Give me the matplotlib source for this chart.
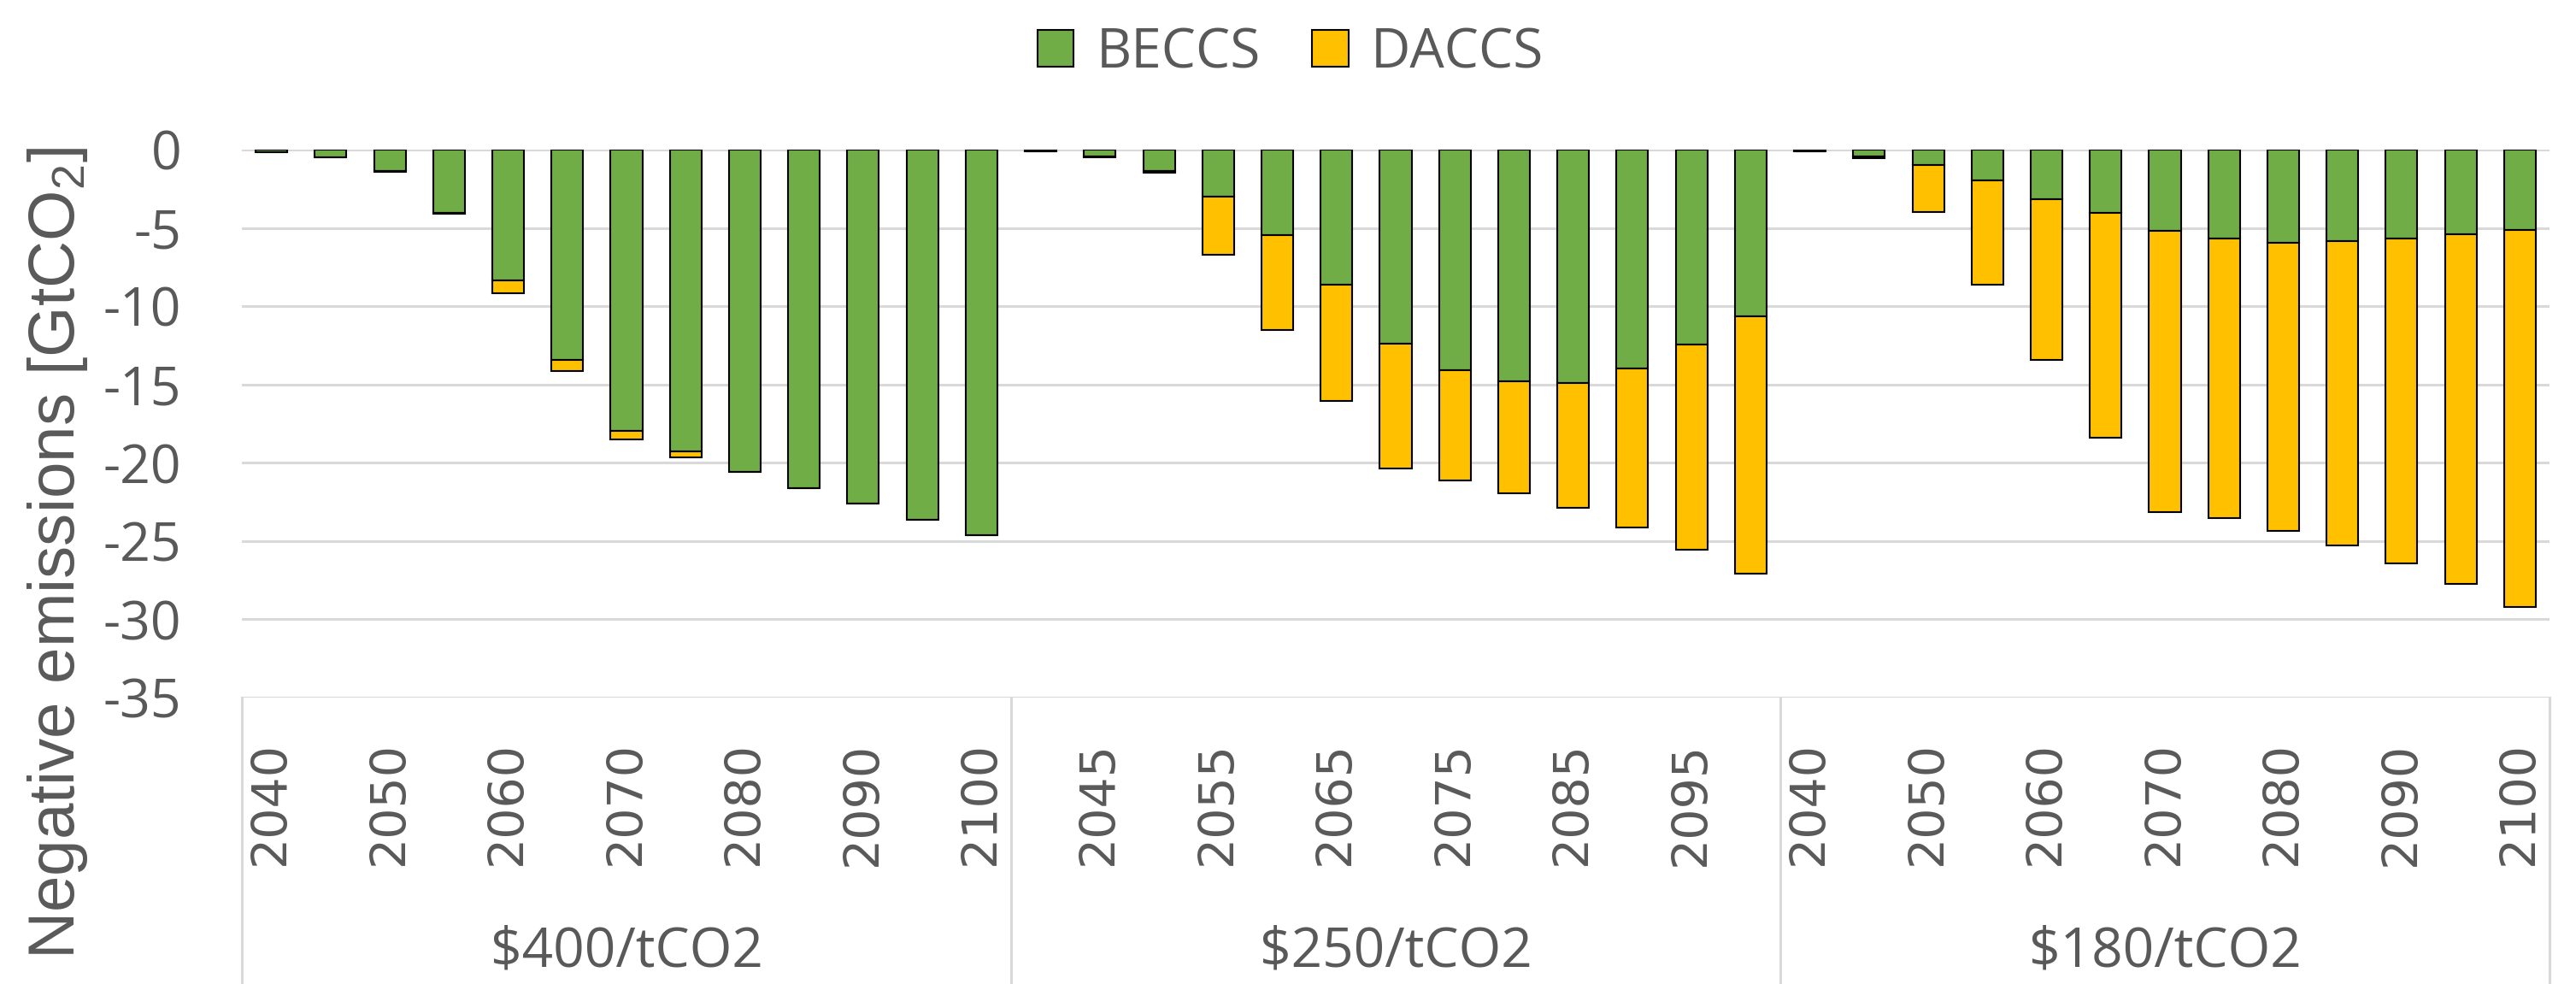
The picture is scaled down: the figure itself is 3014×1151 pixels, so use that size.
import matplotlib
matplotlib.use("Agg")
import matplotlib.pyplot as plt
from matplotlib.patches import Patch
from matplotlib.lines import Line2D
import numpy as np

# ---------------- data ----------------
years = [2040, 2045, 2050, 2055, 2060, 2065, 2070, 2075, 2080, 2085, 2090, 2095, 2100]
groups = ["$400/tCO2", "$250/tCO2", "$180/tCO2"]

beccs_400 = [-0.15, -0.5, -1.37, -4.05, -8.38, -13.41, -17.94, -19.27, -20.57, -21.61, -22.59, -23.62, -24.63]
daccs_400 = [0.0, 0.0, -0.05, -0.05, -0.77, -0.74, -0.59, -0.39, 0.0, 0.0, 0.0, 0.0, 0.0]

beccs_250 = [-0.1, -0.45, -1.35, -2.98, -5.44, -8.6, -12.42, -14.1, -14.78, -14.9, -13.96, -12.47, -10.67]
daccs_250 = [0.0, -0.02, -0.1, -3.74, -6.07, -7.46, -7.95, -7.03, -7.16, -7.98, -10.15, -13.1, -16.42]

beccs_180 = [-0.1, -0.45, -0.99, -1.99, -3.14, -4.03, -5.2, -5.7, -5.94, -5.83, -5.67, -5.41, -5.13]
daccs_180 = [0.0, -0.08, -3.01, -6.61, -10.3, -14.38, -17.97, -17.86, -18.41, -19.46, -20.77, -22.34, -24.08]

y_ticks = [0, -5, -10, -15, -20, -25, -30, -35]
y_label = "Negative emissions [GtCO$_\\mathrm{2}$]"
series_names = ["BECCS", "DACCS"]

# ---------------- style ----------------
GREEN = "#70AD47"
YELLOW = "#FFC000"
GRID = "#D9D9D9"
TXT = "#595959"
plt.rcParams["mathtext.fontset"] = "custom"
plt.rcParams["mathtext.rm"] = "Liberation Sans"
plt.rcParams["mathtext.it"] = "Liberation Sans"

W, H = 3014, 1151
fig = plt.figure(figsize=(W / 100, H / 100), dpi=100)
left, right, top, bottom = 283, 2983, 175, 816
ax = fig.add_axes([left / W, 1 - bottom / H, (right - left) / W, (bottom - top) / H])

beccs = beccs_400 + beccs_250 + beccs_180
daccs = daccs_400 + daccs_250 + daccs_180
n = len(years)
x = np.arange(len(beccs))
bw = 0.535

ax.bar(x, beccs, width=bw, color=GREEN, edgecolor="black", linewidth=1.5, zorder=3)
ax.bar(x, daccs, width=bw, bottom=beccs, color=YELLOW, edgecolor="black", linewidth=1.5, zorder=3)

ax.set_xlim(-0.5, len(x) - 0.5)
ax.set_ylim(-35, 0)
ax.set_yticks(y_ticks)
ax.set_yticklabels([str(v) for v in y_ticks], fontfamily="Open Sans", fontsize=45, color=TXT)
ax.yaxis.grid(True, color=GRID, linewidth=2.2, zorder=0)
ax.set_axisbelow(True)
for s in ax.spines.values():
    s.set_visible(False)
ax.tick_params(axis="y", length=0, pad=51)

# x tick labels: every other bar
tick_pos = x[::2]
tick_lab = [str((years * 3)[i]) for i in tick_pos]
ax.set_xticks(tick_pos)
ax.set_xticklabels(tick_lab, rotation=90, fontfamily="DejaVu Sans", fontsize=41, color=TXT, va="top")
ax.tick_params(axis="x", length=0, pad=37)

# category box lines
trans = ax.get_xaxis_transform()
depth = (H - bottom) / (bottom - top)
for xv in [-0.5, n - 0.5, 2 * n - 0.5, 3 * n - 0.5]:
    ax.add_line(Line2D([xv, xv], [0, -depth - 0.05], transform=trans, color=GRID,
                       linewidth=2.2, clip_on=False))
for gi, g in enumerate(groups):
    ax.text(gi * n + (n - 1) / 2, -(1113 - bottom) / (bottom - top), g, transform=trans,
            ha="center", va="center", fontfamily="Open Sans", fontsize=46, color=TXT)

# y label
fig.text(68 / W, 1 - 647 / H, y_label, rotation=90, ha="center", va="center",
         fontfamily="Liberation Sans", fontsize=55, color=TXT)

# legend
handles = [Patch(facecolor=GREEN, edgecolor="black", linewidth=1.5),
           Patch(facecolor=YELLOW, edgecolor="black", linewidth=1.5)]
leg = fig.legend(handles, series_names, loc="center", bbox_to_anchor=(1510 / W, 1 - 62 / H),
                 ncol=2, frameon=False, prop={"family": "Open Sans", "size": 46},
                 handlelength=0.66, handleheight=0.66, handletextpad=0.41, columnspacing=0.95,
                 borderpad=0)
for t in leg.get_texts():
    t.set_color(TXT)

fig.savefig("out.png", dpi=100)
